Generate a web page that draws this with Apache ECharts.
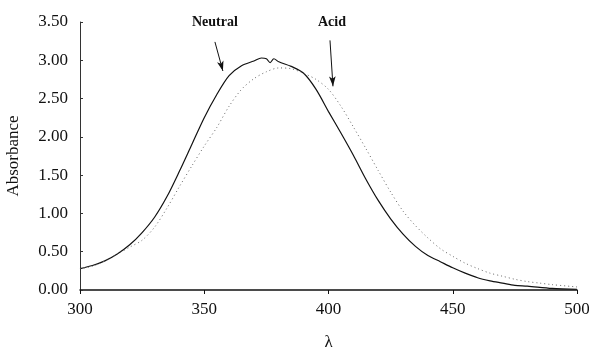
<!DOCTYPE html>
<html>
<head>
<meta charset="utf-8">
<script src="https://cdn.jsdelivr.net/npm/echarts@6/dist/echarts.min.js"></script>
<style>
  html, body { margin: 0; padding: 0; background: #fff; }
  #chart { width: 589px; height: 348px; }
</style>
</head>
<body>
<div id="chart"></div>
<script>
// wavelength (nm) and absorbance
const neutralX = [300, 305, 310, 315, 320, 325, 330, 335, 340, 345, 350, 355, 360, 365, 370, 373, 375, 376.5, 378, 380, 385, 390, 395, 400, 405, 410, 415, 420, 425, 430, 435, 440, 445, 450, 455, 460, 465, 470, 475, 480, 490, 500];
const neutralY = [0.28, 0.32, 0.38, 0.47, 0.59, 0.75, 0.95, 1.22, 1.55, 1.90, 2.25, 2.55, 2.80, 2.93, 2.99, 3.03, 3.02, 2.97, 3.02, 2.98, 2.92, 2.83, 2.62, 2.33, 2.05, 1.76, 1.45, 1.17, 0.93, 0.73, 0.57, 0.45, 0.37, 0.29, 0.22, 0.16, 0.12, 0.09, 0.06, 0.05, 0.02, 0.01];
const acidX = [300, 305, 310, 315, 320, 325, 330, 335, 340, 345, 350, 355, 360, 365, 370, 375, 380, 385, 390, 395, 400, 405, 410, 415, 420, 425, 430, 435, 440, 445, 450, 455, 460, 465, 470, 475, 480, 485, 490, 500];
const acidY = [0.28, 0.31, 0.38, 0.47, 0.56, 0.65, 0.82, 1.07, 1.35, 1.62, 1.88, 2.12, 2.40, 2.62, 2.76, 2.85, 2.90, 2.89, 2.83, 2.75, 2.62, 2.40, 2.13, 1.85, 1.56, 1.28, 1.03, 0.84, 0.68, 0.54, 0.44, 0.35, 0.28, 0.22, 0.18, 0.14, 0.11, 0.09, 0.07, 0.04];

const xTicks = [300, 350, 400, 450, 500];
const yTicks = [0, 0.5, 1, 1.5, 2, 2.5, 3, 3.5];

// arrow annotations: [from, to] in data coords
const neutralArrow = [[354.3, 3.24], [357.5, 2.86]];
const acidArrow = [[400.6, 3.26], [401.8, 2.66]];

const font = '"Liberation Serif", "DejaVu Serif", serif';

const pair = (xs, ys) => xs.map((x, i) => [x, ys[i]]);

const arrow = (pts) => [
  { coord: pts[0], symbol: 'none' },
  { coord: pts[1], symbol: 'arrow', symbolSize: [5, 10] }
];

const chart = echarts.init(document.getElementById('chart'));

chart.setOption({
  animation: false,
  backgroundColor: '#fff',
  grid: { left: 80, right: 12, top: 22, bottom: 58, outerBoundsMode: 'none' },
  xAxis: {
    type: 'value',
    min: xTicks[0],
    max: xTicks[xTicks.length - 1],
    interval: 50,
    name: 'λ',
    nameLocation: 'middle',
    nameGap: 44,
    nameTextStyle: { fontFamily: font, fontSize: 17, color: '#111' },
    axisLine: { lineStyle: { color: '#111', width: 1.5 } },
    axisTick: { show: true, length: 4, lineStyle: { color: '#111' } },
    axisLabel: { fontFamily: font, fontSize: 17, color: '#111', margin: 11 },
    splitLine: { show: false }
  },
  yAxis: {
    type: 'value',
    min: yTicks[0],
    max: yTicks[yTicks.length - 1],
    interval: 0.5,
    name: 'Absorbance',
    nameLocation: 'middle',
    nameRotate: 90,
    nameGap: 58,
    nameTextStyle: { fontFamily: font, fontSize: 17, color: '#111' },
    axisLine: { show: true, lineStyle: { color: '#333', width: 1 } },
    axisTick: { show: true, inside: true, length: 3, lineStyle: { color: '#333' } },
    axisLabel: {
      fontFamily: font, fontSize: 17, color: '#111', margin: 12,
      formatter: v => v.toFixed(2)
    },
    splitLine: { show: false }
  },
  series: [
    {
      name: 'Neutral',
      type: 'line',
      data: pair(neutralX, neutralY),
      showSymbol: false,
      smooth: 0.3,
      lineStyle: { color: '#111', width: 1.2 },
      markLine: {
        silent: true,
        label: { show: false },
        lineStyle: { color: '#111', width: 1, type: 'solid' },
        data: [arrow(neutralArrow), arrow(acidArrow)]
      }
    },
    {
      name: 'Acid',
      type: 'line',
      data: pair(acidX, acidY),
      showSymbol: false,
      smooth: 0.3,
      lineStyle: { color: '#666', width: 1, type: [1, 3] }
    }
  ],
  graphic: [
    {
      type: 'text', left: 192, top: 15,
      style: { text: 'Neutral', font: 'bold 14px ' + font, fill: '#111' }
    },
    {
      type: 'text', left: 318, top: 15,
      style: { text: 'Acid', font: 'bold 14px ' + font, fill: '#111' }
    }
  ]
});
</script>
</body>
</html>
